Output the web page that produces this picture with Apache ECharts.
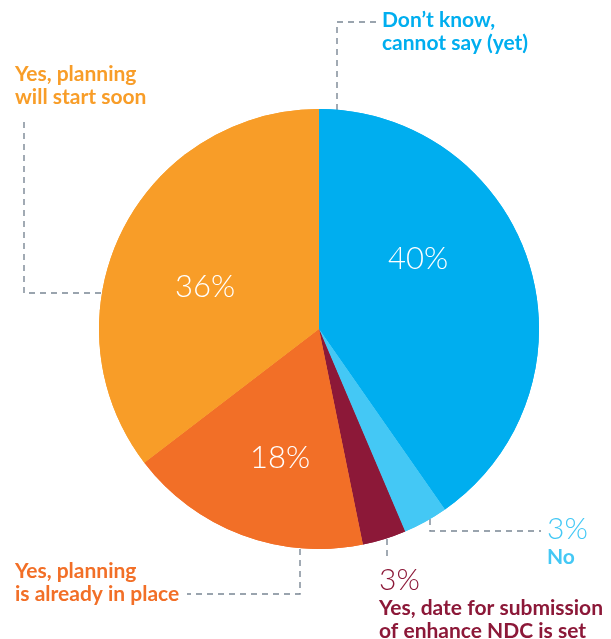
<!DOCTYPE html>
<html><head><meta charset="utf-8">
<script src="https://cdn.jsdelivr.net/npm/echarts@6/dist/echarts.min.js"></script>
<style>html,body{margin:0;padding:0;background:#fff}#c{width:611px;height:639px}</style>
</head><body><div id="c"></div>
<script>
const categories = ["Don\u2019t know,\ncannot say (yet)", "No", "Yes, date for submission\nof enhance NDC is set", "Yes, planning\nis already in place", "Yes, planning\nwill start soon"];
const values = [40.3, 3.3, 3.2, 17.8, 35.4];
const pctLabels = ["40%", "3%", "3%", "18%", "36%"];
const colors = ["#00AEEF", "#44C8F5", "#8C1838", "#F26F27", "#F89D28"];

const chart = echarts.init(document.getElementById('c'), null, {renderer: 'canvas'});
const data = categories.map((c, i) => ({name: c, value: values[i], itemStyle: {color: colors[i]}}));
const CX = 319, CY = 329, R = 220;
const bold = 'Lato';

const outer = [
  {x: 382, y: 9, pts: [[337, 110], [337, 22], [376, 22]]},
  {x: 547, y: 512, pts: [[430, 519], [430, 531], [541, 531]]},
  {x: 379, y: 563, pts: [[387, 539], [387, 561]]},
  {x: 15, y: 560, pts: [[300, 549], [300, 594], [187, 594]]},
  {x: 15, y: 63, pts: [[101, 293], [24, 293], [24, 118]]}
];
const inner = [[418, 259], null, null, [280, 458], [205, 287]];

function outerFormatter(p) {
  const i = p.dataIndex;
  const nm = '{nm|' + p.name.replace('\n', '}\n{nm|') + '}';
  if (i === 1 || i === 2) return '{pct|' + pctLabels[i] + '}\n' + nm;
  return nm;
}

chart.setOption({
  animation: false,
  series: [
    {
      type: 'pie', center: [CX, CY], radius: R, startAngle: 90, clockwise: true,
      data: data.map((d, i) => ({...d, label: {color: colors[i], overflow: 'none', rich: {
        nm: {fontFamily: bold, fontWeight: 'bold', fontSize: 21, lineHeight: 23, color: colors[i]},
        pct: {fontFamily: 'Lato', fontWeight: 300, fontSize: 30, lineHeight: 34, color: colors[i]}
      }}})),
      label: {show: true, position: 'outside', overflow: 'none', alignTo: 'none', formatter: outerFormatter},
      labelLine: {show: true, length: 10, length2: 10, lineStyle: {color: '#7A8794', width: 1.4, type: [6, 5]}},
      labelLayout: function (p) {
        const o = outer[p.dataIndex];
        return {x: o.x, y: o.y, align: 'left', verticalAlign: 'top', labelLinePoints: o.pts, hideOverlap: false};
      }
    },
    {
      type: 'pie', center: [CX, CY], radius: R, startAngle: 90, clockwise: true, silent: true,
      data: data,
      label: {show: true, position: 'inside', color: '#fff', fontFamily: 'Lato', fontWeight: 300, fontSize: 31,
        formatter: p => inner[p.dataIndex] ? pctLabels[p.dataIndex] : ''},
      labelLine: {show: false},
      labelLayout: function (p) {
        const q = inner[p.dataIndex];
        if (!q) return {};
        return {x: q[0], y: q[1], align: 'center', verticalAlign: 'middle'};
      }
    }
  ]
});
</script></body></html>
